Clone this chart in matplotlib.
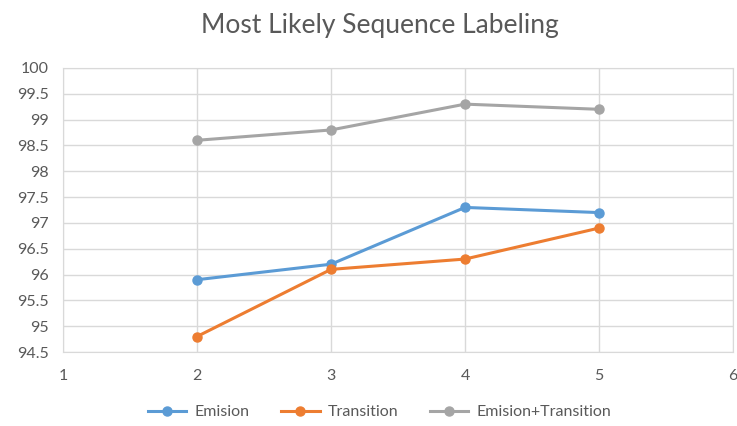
import matplotlib
matplotlib.use("Agg")
import matplotlib.pyplot as plt

x = [2, 3, 4, 5]
emision = [95.9, 96.2, 97.3, 97.2]
transition = [94.8, 96.1, 96.3, 96.9]
both = [98.6, 98.8, 99.3, 99.2]
labels = ["Emision", "Transition", "Emision+Transition"]
colors = ["#5B9BD5", "#ED7D31", "#A5A5A5"]
yticks = [94.5, 95, 95.5, 96, 96.5, 97, 97.5, 98, 98.5, 99, 99.5, 100]
xticks = [1, 2, 3, 4, 5, 6]

plt.rcParams['font.family'] = ['Lato', 'DejaVu Sans']
fig = plt.figure(figsize=(7.37, 4.26), dpi=100)
ax = fig.add_axes([0.0855, 0.1737, 0.9091, 0.6667])

for vals, lab, c in zip([emision, transition, both], labels, colors):
    ax.plot(x, vals, color=c, lw=2.2, marker='o', ms=6.5, label=lab, zorder=3)

ax.set_xlim(1, 6)
ax.set_ylim(94.5, 100)
ax.set_xticks(xticks)
ax.set_yticks(yticks)
ax.set_yticklabels([f"{v:g}" for v in yticks])
ax.grid(True, color="#D9D9D9", lw=1)
for s in ax.spines.values():
    s.set_color("#D9D9D9")
ax.tick_params(length=0, labelsize=11.5, colors="#595959")
ax.tick_params(axis='x', pad=12)
ax.tick_params(axis='y', pad=10)

fig.suptitle("Most Likely Sequence Labeling", x=0.515, y=0.97, fontsize=19, color="#595959")
fig.legend(loc='lower center', bbox_to_anchor=(0.515, -0.018), ncol=3, frameon=False,
           fontsize=11.5, labelcolor="#595959", handlelength=2.4, handletextpad=0.5,
           columnspacing=2.0)
fig.savefig("out.png", dpi=100)
